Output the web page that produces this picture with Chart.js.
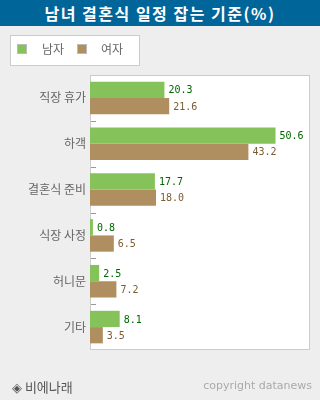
<!DOCTYPE html>
<html><head><meta charset="utf-8">
<script src="https://cdn.jsdelivr.net/npm/chart.js@4"></script>
<style>
html,body{margin:0;padding:0;background:#eeeeee;width:320px;height:400px;overflow:hidden;font-family:"Noto Sans CJK KR","Noto Sans",sans-serif;}
#title{position:absolute;left:0;top:0;width:320px;height:26px;background:#006699;color:#fff;font-size:16px;font-weight:bold;text-align:center;line-height:27px;letter-spacing:1.5px;}
#legend{position:absolute;left:10px;top:35px;width:128px;height:29px;background:#fff;border:1px solid #cccccc;}
.sw{position:absolute;top:8px;width:8px;height:8px;border:1px solid #bbb;}
.lt{position:absolute;top:5px;font-size:12px;color:#666;line-height:16px;}
#wrap{position:absolute;left:0;top:0;width:320px;height:400px;}
#src{position:absolute;left:12px;top:377px;font-size:13px;color:#555;}
#copy{position:absolute;right:8px;top:379px;font-size:11px;color:#aaa;font-family:"DejaVu Sans",sans-serif;}
</style></head>
<body>
<div id="wrap"><canvas id="c" width="320" height="400"></canvas></div>
<div id="title">남녀 결혼식 일정 잡는 기준(%)</div>
<div id="legend"></div>
<div id="src">◈ 비에나래</div>
<div id="copy">copyright datanews</div>
<script>
const categories = ["직장 휴가", "하객", "결혼식 준비", "식장 사정", "허니문", "기타"];
const seriesNames = ["남자", "여자"];
const menValues = [20.3, 50.6, 17.7, 0.8, 2.5, 8.1];
const womenValues = [21.6, 43.2, 18.0, 6.5, 7.2, 3.5];
const barColors = ["#86c25a", "#af8f5f"];
const labelColors = ["#006600", "#7a5c30"];

// HTML legend built from series names
const lg = document.getElementById('legend');
const swX = [6, 66], txX = [31, 90];
seriesNames.forEach((n, i) => {
  const s = document.createElement('div'); s.className = 'sw';
  s.style.left = swX[i] + 'px'; s.style.background = barColors[i]; lg.appendChild(s);
  const t = document.createElement('div'); t.className = 'lt';
  t.style.left = txX[i] + 'px'; t.textContent = n; lg.appendChild(t);
});

const areaPlugin = {
  id: 'area',
  beforeDraw(chart) {
    const {ctx, chartArea: a} = chart;
    ctx.save();
    ctx.fillStyle = '#ffffff';
    ctx.fillRect(a.left, a.top, a.right - a.left, a.bottom - a.top);
    ctx.strokeStyle = '#cccccc'; ctx.lineWidth = 1;
    ctx.strokeRect(Math.round(a.left) + 0.5, Math.round(a.top) + 0.5, Math.round(a.right - a.left) - 1, Math.round(a.bottom - a.top) - 1);
    // short separator ticks between categories
    const y = chart.scales.y;
    ctx.strokeStyle = '#999999';
    for (let i = 0; i < categories.length - 1; i++) {
      const yy = Math.round((y.getPixelForValue(i) + y.getPixelForValue(i + 1)) / 2) + 0.5;
      ctx.beginPath(); ctx.moveTo(a.left + 1, yy); ctx.lineTo(a.left + 6, yy); ctx.stroke();
    }
    ctx.restore();
  },
  afterDatasetsDraw(chart) {
    const ctx = chart.ctx;
    ctx.save();
    ctx.font = '10px "DejaVu Sans Mono", monospace';
    ctx.textBaseline = 'middle'; ctx.textAlign = 'left';
    chart.data.datasets.forEach((ds, di) => {
      const meta = chart.getDatasetMeta(di);
      ctx.fillStyle = labelColors[di];
      meta.data.forEach((bar, i) => {
        ctx.fillText(ds.data[i].toFixed(1), bar.x + 4, bar.y + 1);
      });
    });
    ctx.restore();
  }
};

new Chart(document.getElementById('c'), {
  type: 'bar',
  data: {
    labels: categories,
    datasets: [
      {label: seriesNames[0], data: menValues, backgroundColor: barColors[0]},
      {label: seriesNames[1], data: womenValues, backgroundColor: barColors[1]}
    ]
  },
  options: {
    indexAxis: 'y',
    responsive: false,
    animation: false,
    events: [],
    categoryPercentage: 0.71,
    barPercentage: 1.0,
    layout: {padding: {top: 75, right: 10, bottom: 50, left: 0}},
    plugins: {legend: {display: false}, tooltip: {enabled: false}},
    scales: {
      x: {display: false, min: 0, max: 60},
      y: {
        afterFit(s) { s.width = 90; },
        grid: {display: false, drawTicks: false},
        border: {display: false},
        ticks: {color: '#666666', padding: 4, font: {family: '"Noto Sans CJK KR", sans-serif', size: 12}}
      }
    }
  },
  plugins: [areaPlugin]
});
</script>
</body></html>
